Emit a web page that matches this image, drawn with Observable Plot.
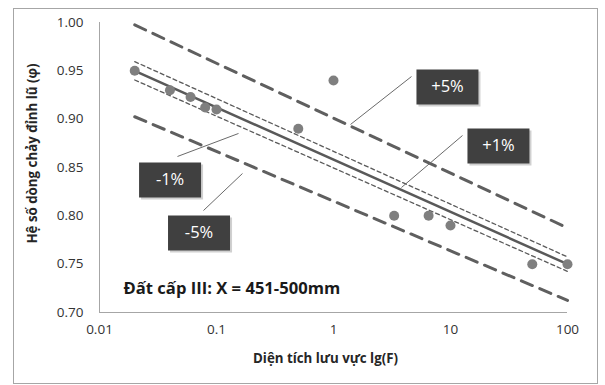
<!DOCTYPE html>
<html>
<head>
<meta charset="utf-8">
<script src="https://cdn.jsdelivr.net/npm/d3@7"></script>
<script src="https://cdn.jsdelivr.net/npm/@observablehq/plot@0.6"></script>
<style>
  html, body { margin: 0; padding: 0; background: #fff; }
  #wrap { position: relative; width: 605px; height: 385px; }
  #border { position: absolute; left: 13px; top: 8px; width: 583px; height: 374px; border: 1px solid #a6a6a6; pointer-events: none; }
  #chart { position: absolute; left: 0; top: 0; }
  #chart svg text { font-family: 'Open Sans', sans-serif; }
</style>
</head>
<body>
<div id="wrap"><div id="chart"></div><div id="border"></div></div>
<script>
// Observed points
const areaF = [0.02, 0.04, 0.06, 0.08, 0.1, 0.5, 1, 3.3, 6.5, 10, 50, 100];
const phi   = [0.95, 0.93, 0.923, 0.912, 0.91, 0.89, 0.94, 0.80, 0.80, 0.79, 0.75, 0.75];

// Trend line and bands (endpoints)
const lineX  = [0.02, 100];
const trend  = [0.95, 0.75];
const plus1  = [0.9595, 0.7575];
const minus1 = [0.9405, 0.7425];
const plus5  = [0.9975, 0.7875];
const minus5 = [0.9025, 0.7125];

// Axis ticks
const xTicks = [0.01, 0.1, 1, 10, 100];
const yTicks = [0.70, 0.75, 0.80, 0.85, 0.90, 0.95, 1.00];

// Annotation labels (data coordinates)
const labelText = ["+5%", "+1%", "-1%", "-5%"];
const labelX = [9.42, 25.7, 0.0401, 0.0709];
const labelY = [0.9333, 0.8722, 0.8371, 0.7822];
// Leader lines
const leadX1 = [4.64, 12.66, 0.0464, 0.0774];
const leadY1 = [0.9441, 0.8831, 0.8614, 0.8055];
const leadX2 = [1.397, 3.81, 0.1542, 0.1668];
const leadY2 = [0.8945, 0.8293, 0.8852, 0.8438];

const noteText = "Đất cấp III: X = 451-500mm";
const noteX = [0.01604];
const noteY = [0.7248];

const points = areaF.map((f, i) => ({f, v: phi[i]}));
const series = (arr) => lineX.map((x, i) => ({x, y: arr[i]}));
const labels = labelText.map((t, i) => ({t, x: labelX[i], y: labelY[i]}));
const leaders = labelText.map((t, i) => ({x1: leadX1[i], y1: leadY1[i], x2: leadX2[i], y2: leadY2[i]}));

const boxSymbol = { draw(ctx) { ctx.rect(-31, -17.5, 62, 35); } };

const chart = Plot.plot({
  width: 605,
  height: 385,
  marginLeft: 99,
  marginRight: 38,
  marginTop: 22,
  marginBottom: 73,
  style: { fontFamily: "'Open Sans', sans-serif", background: "transparent" },
  x: { type: "log", domain: [0.01, 100] },
  y: { domain: [0.7, 1.0] },
  marks: [
    Plot.axisY({ ticks: yTicks, tickFormat: d3.format(".2f"), tickSize: 0, tickPadding: 16, fontSize: 13.5, fill: "#333333",
      label: "Hệ số dòng chảy đỉnh lũ (φ)", labelAnchor: "center", labelArrow: "none", labelOffset: 72 }),
    Plot.axisX({ ticks: xTicks, tickFormat: d => String(d), tickSize: 0, tickPadding: 12, fontSize: 13.5, fill: "#333333",
      label: "Diện tích lưu vực lg(F)", labelAnchor: "center", labelArrow: "none", labelOffset: 50 }),
    Plot.ruleY([0.7], { stroke: "#a6a6a6", strokeWidth: 1 }),
    Plot.ruleX([0.01], { stroke: "#a6a6a6", strokeWidth: 1 }),
    Plot.line(series(plus5), { x: "x", y: "y", stroke: "#5f5f5f", strokeWidth: 3, strokeDasharray: "12,8" }),
    Plot.line(series(minus5), { x: "x", y: "y", stroke: "#5f5f5f", strokeWidth: 3, strokeDasharray: "12,8" }),
    Plot.line(series(plus1), { x: "x", y: "y", stroke: "#5a5a5a", strokeWidth: 1.3, strokeDasharray: "4,3" }),
    Plot.line(series(minus1), { x: "x", y: "y", stroke: "#5a5a5a", strokeWidth: 1.3, strokeDasharray: "4,3" }),
    Plot.line(series(trend), { x: "x", y: "y", stroke: "#595959", strokeWidth: 2.5 }),
    Plot.dot(points, { x: "f", y: "v", r: 5, fill: "#7f7f7f", stroke: "none" }),
    Plot.link(leaders, { x1: "x1", y1: "y1", x2: "x2", y2: "y2", stroke: "#6a6a6a", strokeWidth: 1 }),
    Plot.dot(labels, { x: "x", y: "y", symbol: boxSymbol, fill: "#b0b0b0", fillOpacity: 0.6, dx: 2, dy: 2, stroke: "none" }),
    Plot.dot(labels, { x: "x", y: "y", symbol: boxSymbol, fill: "#404040", stroke: "none" }),
    Plot.text(labels, { x: "x", y: "y", text: "t", fill: "#ffffff", fontSize: 16.5 }),
    Plot.text([noteText], { x: noteX, y: noteY, text: d => d, textAnchor: "start", fontSize: 16.6, fontWeight: "bold", fill: "#1a1a1a" })
  ]
});
// bold axis titles
chart.querySelectorAll("g[aria-label='y-axis label'] text, g[aria-label='x-axis label'] text").forEach(t => {
  t.setAttribute("font-weight", "bold"); t.setAttribute("font-size", "13.3"); t.setAttribute("fill", "#262626");
});
chart.querySelectorAll("g[aria-label='y-axis label'] text").forEach(t => t.setAttribute("dx", "14"));
chart.querySelectorAll("g[aria-label='x-axis label'] text").forEach(t => t.setAttribute("dx", "-8"));
document.getElementById("chart").appendChild(chart);
</script>
</body>
</html>
